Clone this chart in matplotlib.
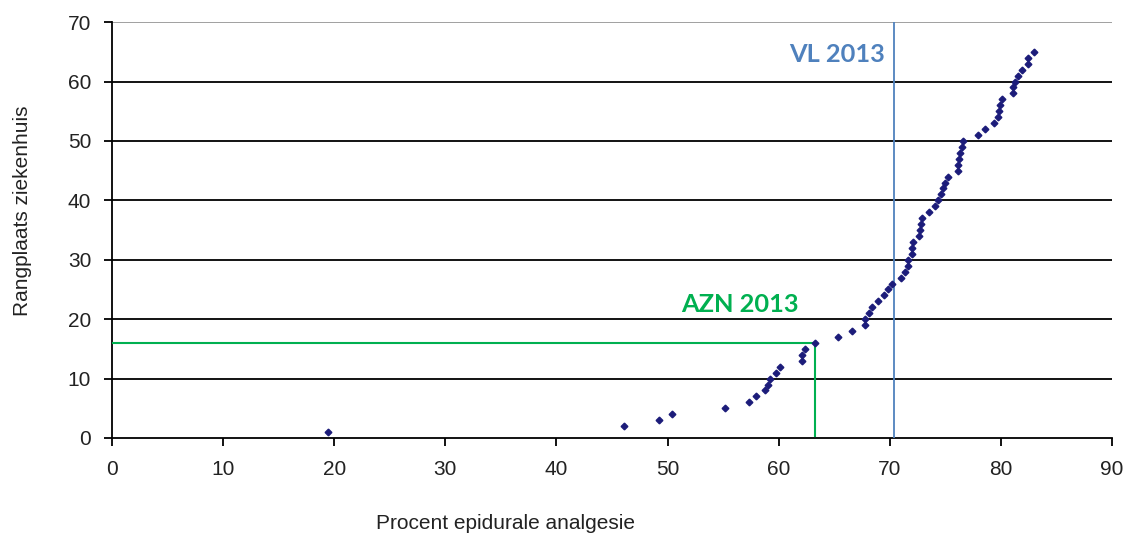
import matplotlib
matplotlib.use('Agg')
import matplotlib.pyplot as plt

# rank of each hospital (1..65) and its epidural percentage
ranks = list(range(1, 66))
pct = [
    19.4, 46.1, 49.2, 50.4, 55.2, 57.3, 58.0, 58.8, 59.0, 59.2,
    59.8, 60.1, 62.1, 62.1, 62.4, 63.3, 65.3, 66.6, 67.8, 67.8,
    68.1, 68.4, 68.9, 69.5, 69.8, 70.2, 71.0, 71.4, 71.6, 71.6,
    72.0, 72.0, 72.1, 72.6, 72.7, 72.8, 72.9, 73.5, 74.1, 74.3,
    74.6, 74.8, 75.0, 75.2, 76.1, 76.1, 76.2, 76.3, 76.5, 76.6,
    77.9, 78.6, 79.4, 79.7, 79.8, 79.9, 80.1, 81.1, 81.1, 81.3,
    81.5, 81.9, 82.4, 82.4, 83.0,
]

vl_2013 = 70.4
azn_2013_pct = 63.3
azn_2013_rank = 16

xticks = list(range(0, 91, 10))
yticks = list(range(0, 71, 10))

plt.rcParams['font.family'] = ['Liberation Sans', 'DejaVu Sans']

fig = plt.figure(figsize=(11.28, 5.39), dpi=100)
ax = fig.add_axes([0.0993, 0.1874, 0.8865, 0.7716])

ax.set_xlim(0, 90)
ax.set_ylim(0, 70)

for y in yticks[1:]:
    ax.axhline(y, color='black' if y < 70 else '#999999', lw=1.3, zorder=1)

ax.plot(pct, ranks, linestyle='none', marker='D', markersize=3.4,
        color='#1c1c7a', zorder=4)

# reference lines
ax.axvline(vl_2013, color='#4f81bd', lw=1.3, zorder=3)
ax.plot([0, azn_2013_pct], [azn_2013_rank, azn_2013_rank], color='#00b050', lw=1.5, zorder=3)
ax.plot([azn_2013_pct, azn_2013_pct], [0.4, azn_2013_rank], color='#00b050', lw=1.5, zorder=3)

ax.text(69.6, 64.5, 'VL 2013', color='#4f81bd', fontsize=18.3,
        fontweight='bold', family=['Lato', 'DejaVu Sans'], ha='right', va='center')
ax.text(56.5, 22.4, 'AZN 2013', color='#00b050', fontsize=18.3,
        fontweight='bold', family=['Lato', 'DejaVu Sans'], ha='center', va='center')

for side in ['top', 'right']:
    ax.spines[side].set_visible(False)
for side in ['left', 'bottom']:
    ax.spines[side].set_color('black')
    ax.spines[side].set_linewidth(1.3)

ax.set_xticks(xticks)
ax.set_yticks(yticks)
ax.tick_params(axis='both', direction='out', length=6, width=1.3, color='black',
               labelsize=15, labelcolor='#222222')
ax.tick_params(axis='x', pad=10)
ax.tick_params(axis='y', pad=9)

fig.text(0.448, 0.028, 'Procent epidurale analgesie', fontsize=15, color='#222222',
         ha='center', va='center')
fig.text(0.02, 0.609, 'Rangplaats ziekenhuis', fontsize=15, color='#222222',
         ha='center', va='center', rotation=90)

fig.savefig('out.png', dpi=100)
